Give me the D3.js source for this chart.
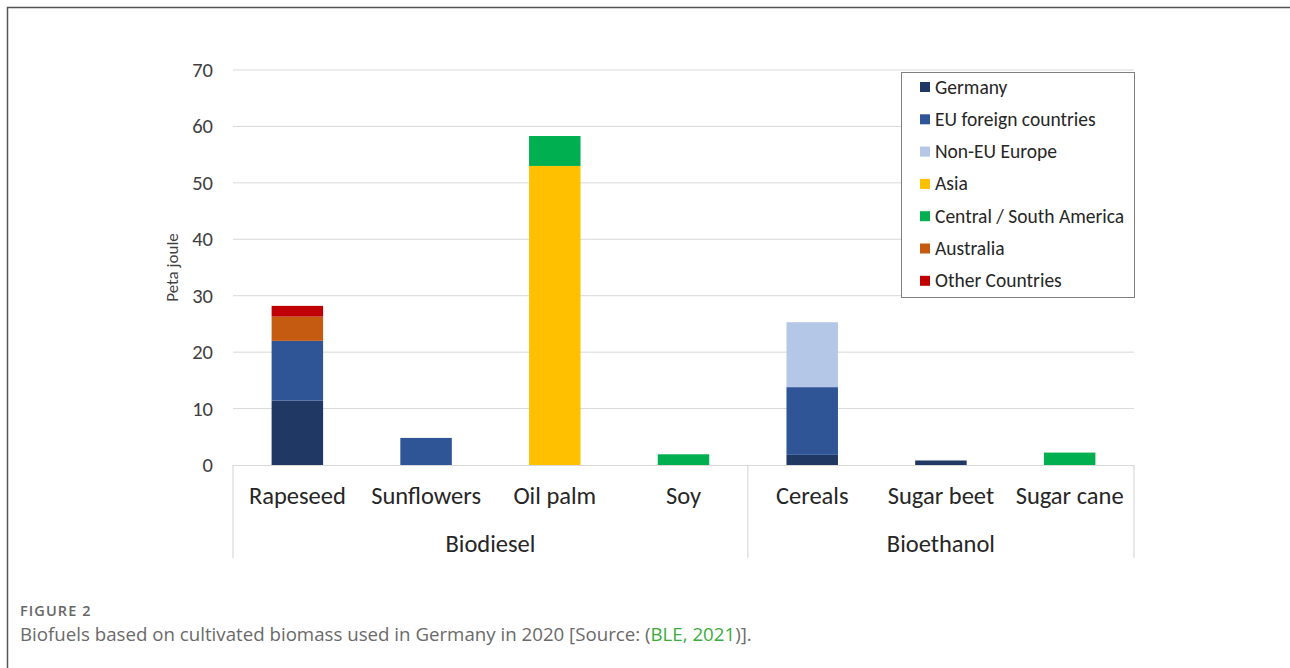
<!DOCTYPE html>
<html lang="en">
<head>
<meta charset="UTF-8">
<title>Biofuels 2020</title>
<script src="https://d3js.org/d3.v7.min.js"></script>
<style>
  body { margin: 0; background: #fff; }
  svg { display: block; }
</style>
</head>
<body>
<svg id="chart" width="1290" height="668"></svg>
<script>
// categories and groups
const crops = ["Rapeseed", "Sunflowers", "Oil palm", "Soy", "Cereals", "Sugar beet", "Sugar cane"]
const groups = [
  {name: "Biodiesel", from: "Rapeseed", to: "Soy"},
  {name: "Bioethanol", from: "Cereals", to: "Sugar cane"}
]
const origins = ["Germany", "EU foreign countries", "Non-EU Europe", "Asia", "Central / South America", "Australia", "Other Countries"]
const colors = ["#203864", "#2f5597", "#b4c7e7", "#ffc000", "#00b050", "#c55a11", "#c00000"]

// values in peta joule, one array per origin (order = crops)
const germany   = [11.4, 0,   0,    0,   1.8,  0.8, 0]
const euForeign = [10.6, 4.8, 0,    0,   12.0, 0,   0]
const nonEU     = [0,    0,   0,    0,   11.5, 0,   0]
const asia      = [0,    0,   53.0, 0,   0,    0,   0]
const southAm   = [0,    0,   5.3,  1.9, 0,    0,   2.2]
const australia = [4.3,  0,   0,    0,   0,    0,   0]
const others    = [1.9,  0,   0,    0,   0,    0,   0]
const yTicks = [0, 10, 20, 30, 40, 50, 60, 70]

const series = [germany, euForeign, nonEU, asia, southAm, australia, others]
const table = crops.map((c, i) => {
  const row = {crop: c}
  origins.forEach((o, k) => row[o] = series[k][i])
  return row
})

const svg = d3.select("#chart")
const font = "Calibri, Carlito, 'Open Sans', sans-serif"

// figure frame
svg.append("path")
  .attr("d", "M7.5,668 V7.5 H1290")
  .attr("fill", "none").attr("stroke", "#555").attr("stroke-width", 1.5)

const plotL = 233, plotR = 1134, plotT = 70, plotB = 465

const x = d3.scaleBand().domain(crops).range([plotL, plotR]).paddingInner(0.6).paddingOuter(0.3)
const y = d3.scaleLinear().domain([0, 70]).range([plotB, plotT])

// grid
svg.append("g").selectAll("line").data(yTicks.filter(d => d > 0)).join("line")
  .attr("x1", plotL).attr("x2", plotR)
  .attr("y1", d => y(d)).attr("y2", d => y(d))
  .attr("stroke", "#d9d9d9").attr("stroke-width", 1)

// y axis labels
const yAxis = svg.append("g").attr("transform", `translate(${plotL},0)`)
  .call(d3.axisLeft(y).tickValues(yTicks).tickSize(0).tickPadding(20))
yAxis.select(".domain").remove()
yAxis.selectAll("text").attr("font-family", font).attr("font-size", 20.5).attr("fill", "#404040")

svg.append("text")
  .attr("transform", `translate(178,${y(35)}) rotate(-90)`)
  .attr("text-anchor", "middle")
  .attr("font-family", font).attr("font-size", 17).attr("fill", "#404040")
  .text("Peta joule")

// bars
const stacked = d3.stack().keys(origins)(table)
svg.append("g").selectAll("g").data(stacked).join("g")
  .attr("fill", (d, i) => colors[i])
  .selectAll("rect").data(d => d.filter(p => p[1] - p[0] > 0)).join("rect")
  .attr("x", d => x(d.data.crop))
  .attr("width", x.bandwidth())
  .attr("y", d => y(d[1]))
  .attr("height", d => y(d[0]) - y(d[1]))

// x axis: baseline and group dividers
svg.append("line").attr("x1", plotL).attr("x2", plotR).attr("y1", plotB + 0.5).attr("y2", plotB + 0.5)
  .attr("stroke", "#d9d9d9").attr("stroke-width", 1.2)

const gap = (x.step() - x.bandwidth()) / 2
const edges = [plotL, x("Cereals") - gap, plotR]
svg.append("g").selectAll("line").data(edges).join("line")
  .attr("x1", d => d).attr("x2", d => d)
  .attr("y1", plotB).attr("y2", 558)
  .attr("stroke", "#d9d9d9").attr("stroke-width", 1.2)

svg.append("g").selectAll("text").data(crops).join("text")
  .attr("x", d => x(d) + x.bandwidth() / 2)
  .attr("y", 504)
  .attr("text-anchor", "middle")
  .attr("font-family", font).attr("font-size", 24.5).attr("fill", "#262626")
  .text(d => d)

svg.append("g").selectAll("text").data(groups).join("text")
  .attr("x", d => (x(d.from) + x(d.to) + x.bandwidth()) / 2)
  .attr("y", 552)
  .attr("text-anchor", "middle")
  .attr("font-family", font).attr("font-size", 24.5).attr("fill", "#262626")
  .text(d => d.name)

// legend
const lg = svg.append("g")
lg.append("rect").attr("x", 901.5).attr("y", 72.5).attr("width", 233).attr("height", 225)
  .attr("fill", "#fff").attr("stroke", "#7f7f7f").attr("stroke-width", 1)
const items = lg.selectAll("g.item").data(origins).join("g").attr("class", "item")
  .attr("transform", (d, i) => `translate(920,${87 + i * 32.3})`)
items.append("rect").attr("x", 0).attr("y", -5).attr("width", 10).attr("height", 10)
  .attr("fill", (d, i) => colors[i])
items.append("text").attr("x", 15).attr("y", 6.5)
  .attr("font-family", font).attr("font-size", 19.5).attr("fill", "#262626")
  .text(d => d)

// caption
svg.append("text").attr("x", 20).attr("y", 616)
  .attr("font-family", "'Open Sans', sans-serif").attr("font-size", 14.5).attr("font-weight", 600)
  .attr("letter-spacing", 1.1)
  .attr("fill", "#666").text("FIGURE 2")
const cap = svg.append("text").attr("x", 20).attr("y", 641)
  .attr("font-family", "'Open Sans', sans-serif").attr("font-size", 18.7).attr("fill", "#6a6a6a")
cap.append("tspan").text("Biofuels based on cultivated biomass used in Germany in 2020 [Source: (")
cap.append("tspan").attr("fill", "#3bab3b").text("BLE, 2021")
cap.append("tspan").text(")].")
</script>
</body>
</html>
